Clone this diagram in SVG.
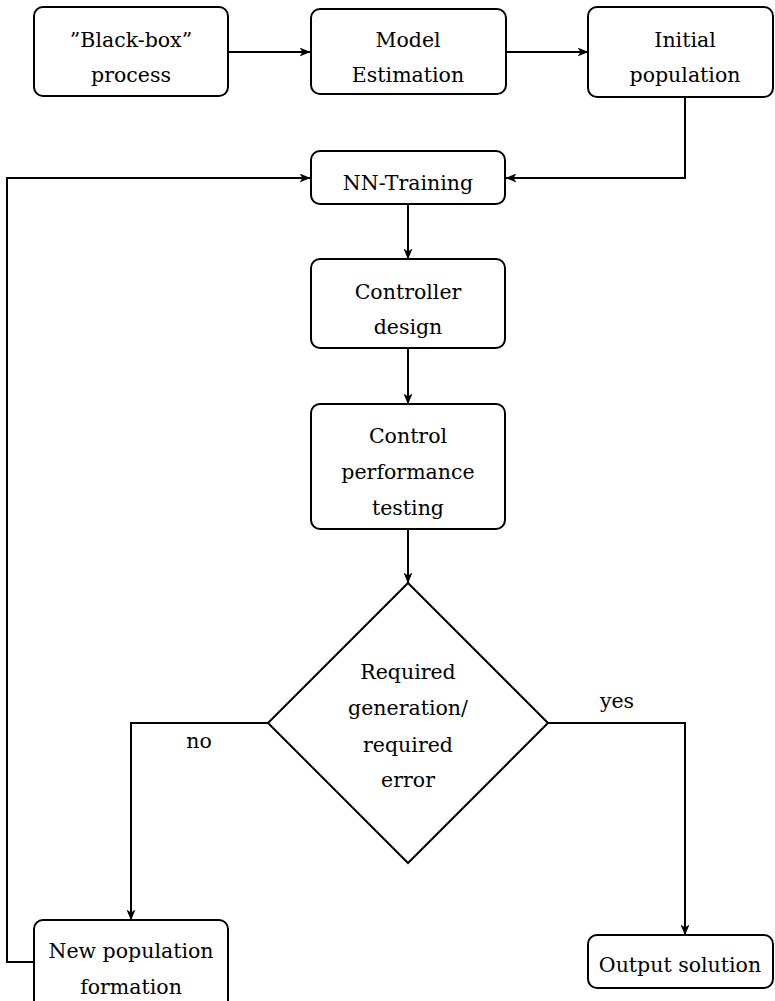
<svg xmlns="http://www.w3.org/2000/svg" width="775" height="1001" viewBox="0 0 775 1001">
  <style>
    .box { fill: #ffffff; stroke: #000000; stroke-width: 2; }
    .lbl { font-family: 'DejaVu Serif', serif; font-size: 20.5px; fill: #000000; text-anchor: middle; }
    .edge { fill: none; stroke: #000000; stroke-width: 2; }
  </style>
  <defs>
    <marker id="arrow" viewBox="0 0 11 9" refX="10.5" refY="4.5" markerWidth="11" markerHeight="9" markerUnits="userSpaceOnUse" orient="auto">
      <path d="M0,0 L11,4.5 L0,9 L3,4.5 Z" fill="#000000"/>
    </marker>
  </defs>

  <!-- connectors -->
  <g id="connectors">
    <path class="edge" d="M228,52 H310" marker-end="url(#arrow)"/>
    <path class="edge" d="M506,52 H588" marker-end="url(#arrow)"/>
    <path class="edge" d="M685,97 V178 H506" marker-end="url(#arrow)"/>
    <path class="edge" d="M34,962 H7 V178 H310" marker-end="url(#arrow)"/>
    <path class="edge" d="M408,204 V259" marker-end="url(#arrow)"/>
    <path class="edge" d="M408,348 V404" marker-end="url(#arrow)"/>
    <path class="edge" d="M408,529 V583" marker-end="url(#arrow)"/>
    <path class="edge" d="M268,723 H131 V920" marker-end="url(#arrow)"/>
    <path class="edge" d="M548,723 H685 V935" marker-end="url(#arrow)"/>
    <text class="lbl" x="199" y="748">no</text>
    <text class="lbl" x="617" y="708">yes</text>
  </g>

  <g id="blackbox">
    <rect class="box" x="34" y="7" width="194" height="89" rx="9"/>
    <text class="lbl" x="131" y="47">”Black-box”</text>
    <text class="lbl" x="131" y="82">process</text>
  </g>

  <g id="model-estimation">
    <rect class="box" x="311" y="9" width="195" height="85" rx="9"/>
    <text class="lbl" x="408" y="47">Model</text>
    <text class="lbl" x="408" y="82">Estimation</text>
  </g>

  <g id="initial-population">
    <rect class="box" x="588" y="7" width="185" height="90" rx="9"/>
    <text class="lbl" x="685" y="47">Initial</text>
    <text class="lbl" x="685" y="82">population</text>
  </g>

  <g id="nn-training">
    <rect class="box" x="311" y="151" width="194" height="53" rx="9"/>
    <text class="lbl" x="408" y="190">NN-Training</text>
  </g>

  <g id="controller-design">
    <rect class="box" x="311" y="259" width="194" height="89" rx="9"/>
    <text class="lbl" x="408" y="299">Controller</text>
    <text class="lbl" x="408" y="334">design</text>
  </g>

  <g id="performance-testing">
    <rect class="box" x="311" y="404" width="194" height="125" rx="9"/>
    <text class="lbl" x="408" y="443">Control</text>
    <text class="lbl" x="408" y="479">performance</text>
    <text class="lbl" x="408" y="515">testing</text>
  </g>

  <g id="decision">
    <polygon class="box" points="408,583 548,723 408,863 268,723"/>
    <text class="lbl" x="408" y="679">Required</text>
    <text class="lbl" x="408" y="715">generation/</text>
    <text class="lbl" x="408" y="752">required</text>
    <text class="lbl" x="408" y="787">error</text>
  </g>

  <g id="new-population">
    <rect class="box" x="34" y="920" width="194" height="89" rx="9"/>
    <text class="lbl" x="131" y="958">New population</text>
    <text class="lbl" x="131" y="994">formation</text>
  </g>

  <g id="output-solution">
    <rect class="box" x="588" y="935" width="185" height="53" rx="9"/>
    <text class="lbl" x="680" y="972">Output solution</text>
  </g>
</svg>
